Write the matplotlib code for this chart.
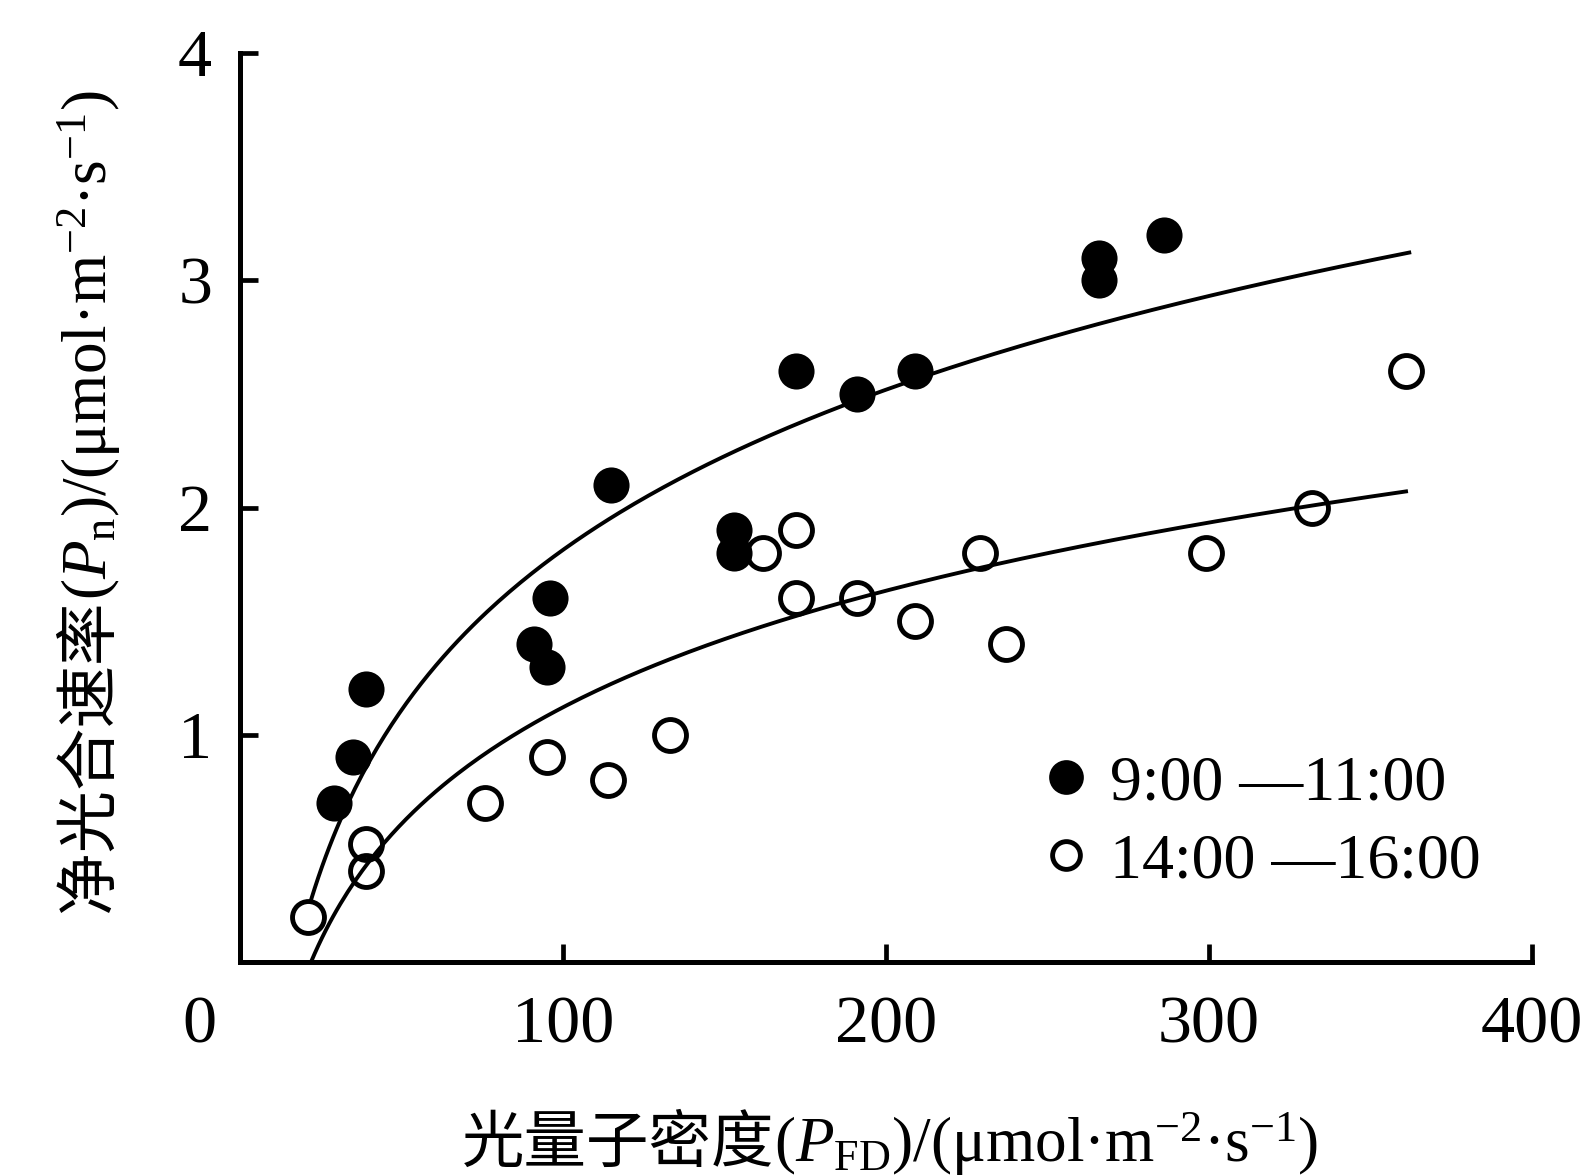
import numpy as np
import matplotlib
matplotlib.use("Agg")
import matplotlib.pyplot as plt
from matplotlib.lines import Line2D
from matplotlib.transforms import IdentityTransform, ScaledTranslation

plt.rcParams['font.family'] = ['Liberation Serif', 'Noto Sans CJK SC', 'DejaVu Sans']
plt.rcParams['mathtext.fontset'] = 'custom'
plt.rcParams['mathtext.rm'] = 'Liberation Serif'
plt.rcParams['mathtext.it'] = 'Liberation Serif:italic'
plt.rcParams['mathtext.bf'] = 'Liberation Serif:bold'

# Morning series (9:00-11:00), filled circles
am_pfd = [29, 35, 39, 91, 95, 96, 115, 153, 153, 172, 191, 209, 266, 266, 286]
am_pn = [0.70, 0.90, 1.20, 1.40, 1.30, 1.60, 2.10, 1.90, 1.80, 2.60, 2.50, 2.60, 3.10, 3.00, 3.20]

# Afternoon series (14:00-16:00), open circles
pm_pfd = [21, 39, 39, 76, 95, 114, 133, 162, 172, 172, 191, 209, 229, 237, 299, 332, 361]
pm_pn = [0.20, 0.52, 0.40, 0.70, 0.90, 0.80, 1.00, 1.80, 1.90, 1.60, 1.60, 1.50, 1.80, 1.40, 1.80, 2.00, 2.60]

# Logarithmic fitted curves: Pn = a*ln(PFD) + b
am_fit_a, am_fit_b, am_fit_range = 1.017, -2.87, (22, 362)
pm_fit_a, pm_fit_b, pm_fit_range = 0.740, -2.287, (22, 361)

legend_labels = ['9:00 \u201411:00', '14:00 \u201416:00']
x_ticks = [100, 200, 300, 400]
y_ticks = [1, 2, 3, 4]
xlabel_cn = '光量子密度'
xlabel_en = '($\\it{P}_{\\rm FD}$)/(μmol·m$^{-2}$·s$^{-1}$)'
ylabel_cn = '净光合速率'
ylabel_en = '($\\it{P}_{\\rm n}$)/(μmol·m$^{-2}$·s$^{-1}$)'

W, H = 1596, 1175
fig = plt.figure(figsize=(W/100, H/100), dpi=100)
ax = fig.add_axes([240/W, 1-962/H, (1532-240)/W, (962-53)/H])

lw_curve = 2.8
xa = np.linspace(*am_fit_range, 300)
ax.plot(xa, am_fit_a*np.log(xa) + am_fit_b, color='black', lw=lw_curve, zorder=2)
xp = np.linspace(*pm_fit_range, 300)
ax.plot(xp, pm_fit_a*np.log(xp) + pm_fit_b, color='black', lw=lw_curve, zorder=2)

ax.plot(am_pfd, am_pn, 'o', color='black', ms=26, mew=0, zorder=3, clip_on=False)
ax.plot(pm_pfd, pm_pn, 'o', mfc='none', mec='black', ms=23, mew=3.5, zorder=3, clip_on=False)

ax.set_xlim(0, 400)
ax.set_ylim(0, 4)
for s in ['top', 'right']:
    ax.spines[s].set_visible(False)
for s in ['left', 'bottom']:
    ax.spines[s].set_linewidth(3.6)

ax.set_xticks(x_ticks)
ax.set_yticks(y_ticks)
ax.tick_params(direction='in', length=13, width=3.4, labelsize=49, pad=20)
ax.tick_params(axis='x', pad=24)
ax.text(-41/3.233, 0, '0', fontsize=49, ha='center', va='top',
        transform=ax.transData + ScaledTranslation(0, -24/72, fig.dpi_scale_trans))

handles = [Line2D([], [], ls='none', marker='o', color='black', ms=25, mew=0),
           Line2D([], [], ls='none', marker='o', mfc='none', mec='black', ms=20, mew=3.5)]
ax.legend(handles, legend_labels, loc='upper left',
          bbox_to_anchor=(1040/W, 1-755/H), bbox_transform=fig.transFigure,
          frameon=False, fontsize=46, handlelength=0.8, handletextpad=0.3,
          borderpad=0, borderaxespad=0, labelspacing=0.3)

# composite axis labels (CJK + Latin with sub/superscripts)
renderer = fig.canvas.get_renderer()
cn_props = dict(family=['Noto Sans CJK SC'], fontsize=45)
en_props = dict(fontsize=45.5)


def chain(pieces, center, base, vertical):
    widths = []
    for s, p in pieces:
        t = fig.text(0, 0, s, transform=IdentityTransform(), **p)
        widths.append(t.get_window_extent(renderer).width)
        t.remove()
    pos = center - sum(widths) / 2
    for (s, p), w in zip(pieces, widths):
        if vertical:
            fig.text(base, pos, s, transform=IdentityTransform(), rotation=90,
                     rotation_mode='anchor', ha='left', va='baseline', **p)
        else:
            fig.text(pos, base, s, transform=IdentityTransform(),
                     ha='left', va='baseline', **p)
        pos += w


chain([(xlabel_cn, cn_props), (xlabel_en, en_props)], 890, H - 1162, False)
chain([(ylabel_cn, cn_props), (ylabel_en, en_props)], H - 501, 107, True)

fig.savefig('out.png', dpi=100, facecolor='white')
